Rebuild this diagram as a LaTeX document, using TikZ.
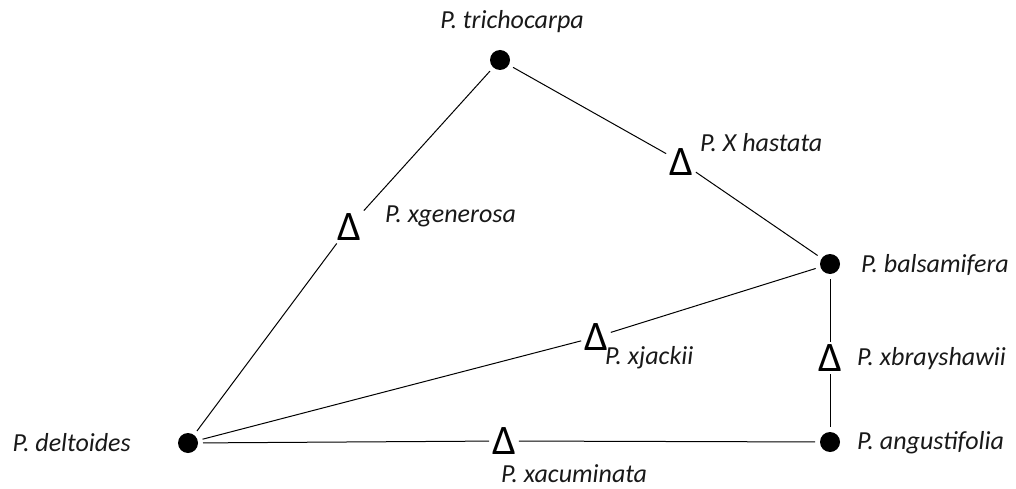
\documentclass[tikz,border=0pt]{standalone}
\usepackage{fontspec}
\setmainfont{Carlito}
\begin{document}
\begin{tikzpicture}[
x=1pt,y=-1pt,
font=\itshape\fontsize{26}{30}\selectfont,
species/.style={circle,fill=black,inner sep=0pt,minimum size=20pt,outer sep=5pt},
hybrid/.style={inner sep=0pt,outer sep=3pt,font=\upshape\fontsize{42}{42}\selectfont},
taxon/.style={inner sep=0pt,text=black!90},
edge/.style={draw=black,line width=1pt}
]
\useasboundingbox (0,0) rectangle (1016,489);

% Parent species
\node [species] (tri) at (500,60) {};
\node [species] (bal) at (830,264) {};
\node [species] (del) at (188,443) {};
\node [species] (ang) at (830,442) {};

\node [taxon] (tri-lbl) at (512,22) {P. trichocarpa};
\node [taxon,anchor=west] (bal-lbl) at (861,265) {P. balsamifera};
\node [taxon,anchor=east] (del-lbl) at (131,443) {P. deltoides};
\node [taxon,anchor=west] (ang-lbl) at (857,443) {P. angustifolia};

% Hybrids
\node [hybrid] (gen) at (349,227) {Δ};
\node [hybrid] (has) at (681,162) {Δ};
\node [hybrid] (jac) at (596,337) {Δ};
\node [hybrid] (bra) at (830,358) {Δ};
\node [hybrid] (acu) at (504,441) {Δ};

\node [taxon,anchor=west] (gen-lbl) at (385,216) {P. xgenerosa};
\node [taxon,anchor=west] (has-lbl) at (700,143) {P. X hastata};
\node [taxon,anchor=west] (jac-lbl) at (605,358) {P. xjackii};
\node [taxon,anchor=west] (bra-lbl) at (857,359) {P. xbrayshawii};
\node [taxon,anchor=west] (acu-lbl) at (501,474) {P. xacuminata};

% Crosses
\draw [edge] (del) -- (gen) -- (tri);
\draw [edge] (tri) -- (has) -- (bal);
\draw [edge] (del) -- (jac) -- (bal);
\draw [edge] (bal) -- (bra) -- (ang);
\draw [edge] (del) -- (acu) -- (ang);

\end{tikzpicture}
\end{document}
